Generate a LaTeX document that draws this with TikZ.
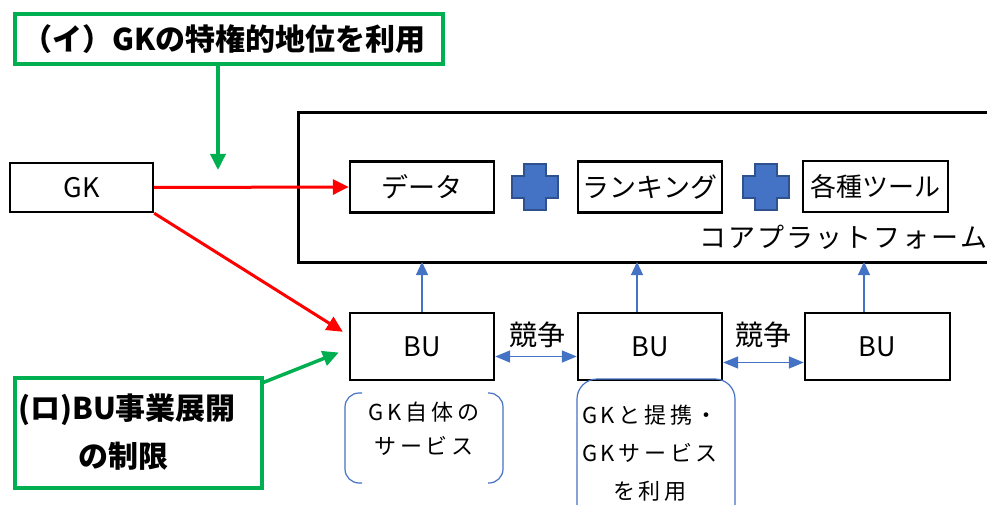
\documentclass[tikz,border=0pt]{standalone}
\usepackage{fontspec}
\setmainfont{Noto Sans CJK JP}
\usetikzlibrary{arrows.meta}
\definecolor{grn}{HTML}{00B050}
\definecolor{blu}{HTML}{4472C4}
\definecolor{bluedge}{HTML}{2F528F}
\tikzset{
  bx/.style={draw=black, line width=2.4pt, minimum width=144pt, minimum height=51pt, inner sep=0pt, font=\fontsize{27}{30}\selectfont},
  gbox/.style={draw=grn, line width=3.5pt, inner sep=0pt, font=\fontsize{30}{34}\selectfont\bfseries},
  redarr/.style={draw=red, line width=3pt, -{Triangle[length=16pt,width=15pt]}},
  grnarr/.style={draw=grn, line width=3.5pt, -{Triangle[length=16pt,width=15pt]}},
  bluarr/.style={draw=blu, line width=1.2pt, -{Triangle[length=13pt,width=12pt]}},
  dblarr/.style={draw=blu, line width=1.5pt, {Triangle[length=15pt,width=12pt]}-{Triangle[length=15pt,width=12pt]}},
  plusshape/.style={fill=blu, draw=bluedge, line width=1.2pt},
  lbl/.style={inner sep=0pt, font=\fontsize{22}{26}\selectfont},
}
\newcommand{\plusat}[2]{%
  \filldraw[plusshape] (#1-23,#2-11) -- (#1-11,#2-11) -- (#1-11,#2-23) -- (#1+11,#2-23) -- (#1+11,#2-11) -- (#1+23,#2-11) -- (#1+23,#2+11) -- (#1+11,#2+11) -- (#1+11,#2+23) -- (#1-11,#2+23) -- (#1-11,#2+11) -- (#1-23,#2+11) -- cycle;}
\begin{document}
\begin{tikzpicture}[x=1pt,y=-1pt]
\useasboundingbox (0,0) rectangle (987,505);
% core platform
\draw[line width=3pt] (995,113) -- (298,113) -- (298,262) -- (995,262);
\node[lbl, anchor=east, font=\fontsize{27}{30}\selectfont] (core) at (988,237) {コ\kern2ptア\kern2ptプ\kern2ptラ\kern2ptッ\kern2ptト\kern2ptフ\kern2ptォ\kern2ptー\kern2ptム};
% top green box
\node[gbox, minimum width=428pt, minimum height=50pt] (ibox) at (229,39) {};
\node[inner sep=0pt, font=\fontsize{30}{34}\selectfont\bfseries] (ititle) at (224,39) {（イ）GKの特権的地位を利用};
\coordinate (itip) at (218,170);
\draw[grnarr] (218,64) -- (itip);
% GK
\node[bx, minimum width=143pt, minimum height=49pt] (gk) at (81.5,187.5) {GK};
% platform items
\node[bx] (data) at (422,187) {データ};
\node[bx] (rank) at (650,187) {ランキング};
\node[bx, minimum width=145pt, font=\fontsize{26}{30}\selectfont] (tool) at (875.5,186.5) {各種ツール};
\plusat{535}{187}
\plusat{766}{187}
% BUs
\node[bx, minimum height=67pt] (bu1) at (422,346.5) {BU};
\node[bx, minimum height=67pt] (bu2) at (650,346.5) {BU};
\node[bx, minimum height=67pt, minimum width=145pt] (bu3) at (877.5,346.5) {BU};
% blue up arrows
\coordinate (c1) at (422,262);
\coordinate (c2) at (637,262);
\coordinate (c3) at (864,262);
\draw[bluarr] (bu1.north) -- (c1);
\draw[bluarr] (bu2.north -| c2) -- (c2);
\draw[bluarr] (bu3.north -| c3) -- (c3);
% competition
\draw[dblarr] ([yshift=-10pt]bu1.east) -- ([yshift=-10pt]bu2.west);
\node[lbl, font=\fontsize{28}{30}\selectfont] (k1) at (537,335) {競争};
\draw[dblarr] ([yshift=-16pt]bu2.east) -- ([yshift=-16pt]bu3.west);
\node[lbl, font=\fontsize{28}{30}\selectfont] (k2) at (763,335) {競争};
% red arrows
\draw[redarr] (gk.east) -- (data.west);
\draw[redarr] (gk.south east) -- ([xshift=-6pt,yshift=-20pt]bu1.north west);
% bracket under BU1
\draw[blu, line width=1.2pt, rounded corners=14pt] (362,393) -- (345,393) -- (345,483) -- (362,483);
\draw[blu, line width=1.2pt, rounded corners=14pt] (488,393) -- (503,393) -- (503,483) -- (488,483);
\node[lbl, align=center] (s1) at (424,429) {G\,K\,自\,体\,の\\[8pt]サ\,ー\,ビ\,ス};
% rounded box under BU2
\draw[blu, line width=1.2pt, rounded corners=20pt] (577,515) -- (577,379) -- (735,379) -- (735,515);
\node[lbl, align=center] (s2) at (650,453) {G\,K\,と\,提\,携\,・\\[12pt]G\,K\,サ\,ー\,ビ\,ス\\[12pt]を\,利\,用};
% bottom green box
\node[gbox, minimum width=247pt, minimum height=110pt] (rbox) at (138.5,433) {};
\node[inner sep=0pt, font=\fontsize{30}{34}\selectfont\bfseries, anchor=west] (r1) at (18,410) {(ロ)BU事業展開};
\node[inner sep=0pt, font=\fontsize{30}{34}\selectfont\bfseries] (r2) at (123,456) {の制限};
\draw[grnarr] (262,383) -- ([xshift=-10pt,yshift=-6pt]bu1.west);
\end{tikzpicture}
\end{document}
